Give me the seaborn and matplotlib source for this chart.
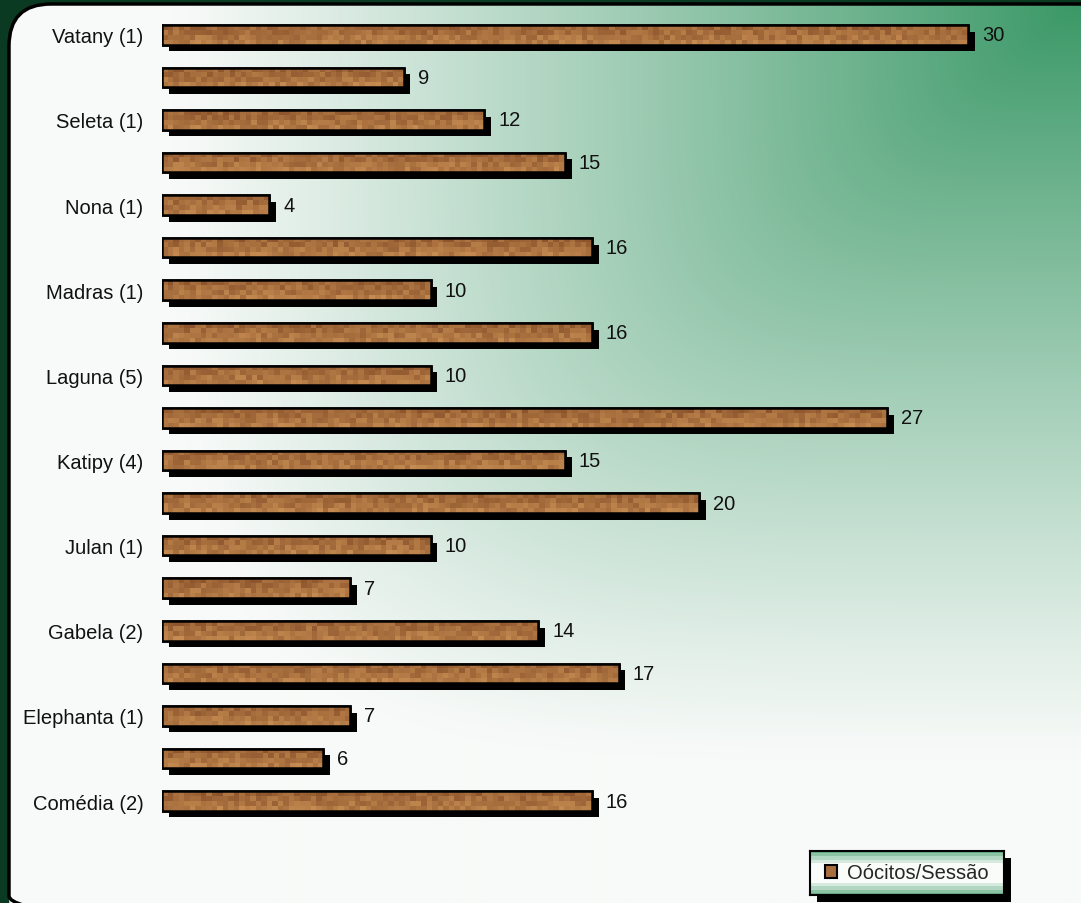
import numpy as np
import pandas as pd
import matplotlib
matplotlib.use("Agg")
import matplotlib.pyplot as plt
import seaborn as sns
from matplotlib.patches import FancyBboxPatch, Rectangle, Patch
import matplotlib.patheffects as pe

# ---------------- data ----------------
labels = ["Vatany (1)", "", "Seleta (1)", "", "Nona (1)", "", "Madras (1)", "",
          "Laguna (5)", "", "Katipy (4)", "", "Julan (1)", "", "Gabela (2)", "",
          "Elephanta (1)", "", "Comédia (2)"]
values = [30, 9, 12, 15, 4, 16, 10, 16, 10, 27, 15, 20, 10, 7, 14, 17, 7, 6, 16]
series_name = "Oócitos/Sessão"

# ---------------- style ----------------
W, H = 1081, 904
sns.set_theme(style="white")
plt.rcParams["font.family"] = ["Liberation Sans", "DejaVu Sans"]
FS = 14.5

BROWN = "#a86e3e"
fig = plt.figure(figsize=(W / 100, H / 100), dpi=100)
fig.patch.set_facecolor("#0b3a22")

# background panel with corner gradient
bg = fig.add_axes([0, 0, 1, 1])
bg.set_xlim(0, W)
bg.set_ylim(H, 0)
bg.axis("off")
yy, xx = np.mgrid[0:H:2, 0:W:2]
dx = (W - xx) / W
dy = yy / H
m = (dx ** 5 + dy ** 5) ** 0.2
t = np.clip(1 - m / 0.84, 0, 1) ** 1.1
white = np.array([248, 250, 249]) / 255
green = np.array([58, 152, 102]) / 255
img = white * (1 - t[..., None]) + green * t[..., None]
panel = FancyBboxPatch((9, 5), W + 30, H + 30,
                       boxstyle="round,pad=0,rounding_size=42",
                       fc="none", ec="black", lw=2.5, zorder=2)
im = bg.imshow(img, extent=(0, W, H, 0), interpolation="bilinear",
               aspect="auto", zorder=1)
bg.add_patch(panel)
im.set_clip_path(panel)
bg.set_xlim(0, W)
bg.set_ylim(H, 0)

# legend shadow (drawn on background layer)
bg.add_patch(Rectangle((817, 859), 194, 44, fc="black", ec="none", zorder=3))

# ---------------- main chart ----------------
ax = fig.add_axes([162 / W, 1 - 825 / H, 878 / W, 810 / H])
ax.set_facecolor("none")
df = pd.DataFrame({"pos": np.arange(len(values)), "value": values})
sns.barplot(data=df, x="value", y="pos", orient="y", native_scale=True,
            width=0.46, color=BROWN, saturation=1, edgecolor="black",
            linewidth=1.8, ax=ax)

shadow = [pe.SimplePatchShadow(offset=(4.8, -4.8), shadow_rgbFace="black", alpha=1.0),
          pe.Normal()]


def hsh(i, j):
    return np.modf(np.abs(np.sin(i * 12.9898 + j * 78.233)) * 43758.5453)[0]


dark = np.array([140, 84, 44]) / 255
light = np.array([198, 140, 82]) / 255
px_per_unit = 878 / 32.68
for k, p in enumerate(list(ax.patches)):
    p.set_path_effects(shadow)
    x0, y0, w, h = p.get_x(), p.get_y(), p.get_width(), p.get_height()
    ncols = max(2, int(w * px_per_unit / 5.5))
    nrows = 4
    jj, ii = np.meshgrid(np.arange(ncols), np.arange(nrows))
    v = hsh(ii + 7 * k, jj + 3 * k)
    v = 0.6 * v + 0.4 * (ii / (nrows - 1))
    tex = dark * (1 - v[..., None]) + light * v[..., None]
    ti = ax.imshow(tex, extent=(x0, x0 + w, y0 + h, y0), aspect="auto",
                   interpolation="nearest", zorder=p.get_zorder() + 0.1)
    ti.set_clip_path(p)
    ax.add_patch(Rectangle((x0, y0), w, h, fill=False, ec="black", lw=1.8,
                           zorder=p.get_zorder() + 0.2))

ax.bar_label(ax.containers[0], labels=[str(v) for v in values], padding=10,
             fontsize=FS, color="#111111")

ax.set_xlim(0, 32.68)
ax.set_ylim(18.54, -0.49)
ax.set_yticks(np.arange(len(values)))
ax.set_yticklabels(labels, fontsize=FS, color="#111111")
ax.set_xticks([])
ax.tick_params(axis="y", length=0, pad=13.5)
ax.set_xlabel("")
ax.set_ylabel("")
for s in ax.spines.values():
    s.set_visible(False)

# ---------------- legend ----------------
lax = fig.add_axes([810 / W, 1 - 896 / H, 194 / W, 44 / H])
n = 44
tt = np.abs(2 * np.arange(n) / (n - 1) - 1)
lev = np.clip((tt - 0.4) / 0.6, 0, 1)
lev = np.round(lev * 4) / 4
lg = np.array([104, 176, 137]) / 255
lw_ = np.array([250, 252, 250]) / 255
strip = lw_ * (1 - lev[:, None]) + lg * lev[:, None]
strip = np.repeat(strip[:, None, :], 4, axis=1)
lax.imshow(strip, extent=(0, 1, 0, 1), aspect="auto", interpolation="nearest")
lax.set_xlim(0, 1)
lax.set_ylim(0, 1)
lax.set_xticks([])
lax.set_yticks([])
for s in lax.spines.values():
    s.set_visible(True)
    s.set_color("black")
    s.set_linewidth(1.5)
lax.legend(handles=[Patch(facecolor=BROWN, edgecolor="black", linewidth=1.5)],
           labels=[series_name], loc="center", frameon=False, fontsize=FS,
           handlelength=0.6, handleheight=0.6, handletextpad=0.5,
           borderaxespad=0, borderpad=0)

fig.savefig("out.png", dpi=100, facecolor=fig.get_facecolor())
